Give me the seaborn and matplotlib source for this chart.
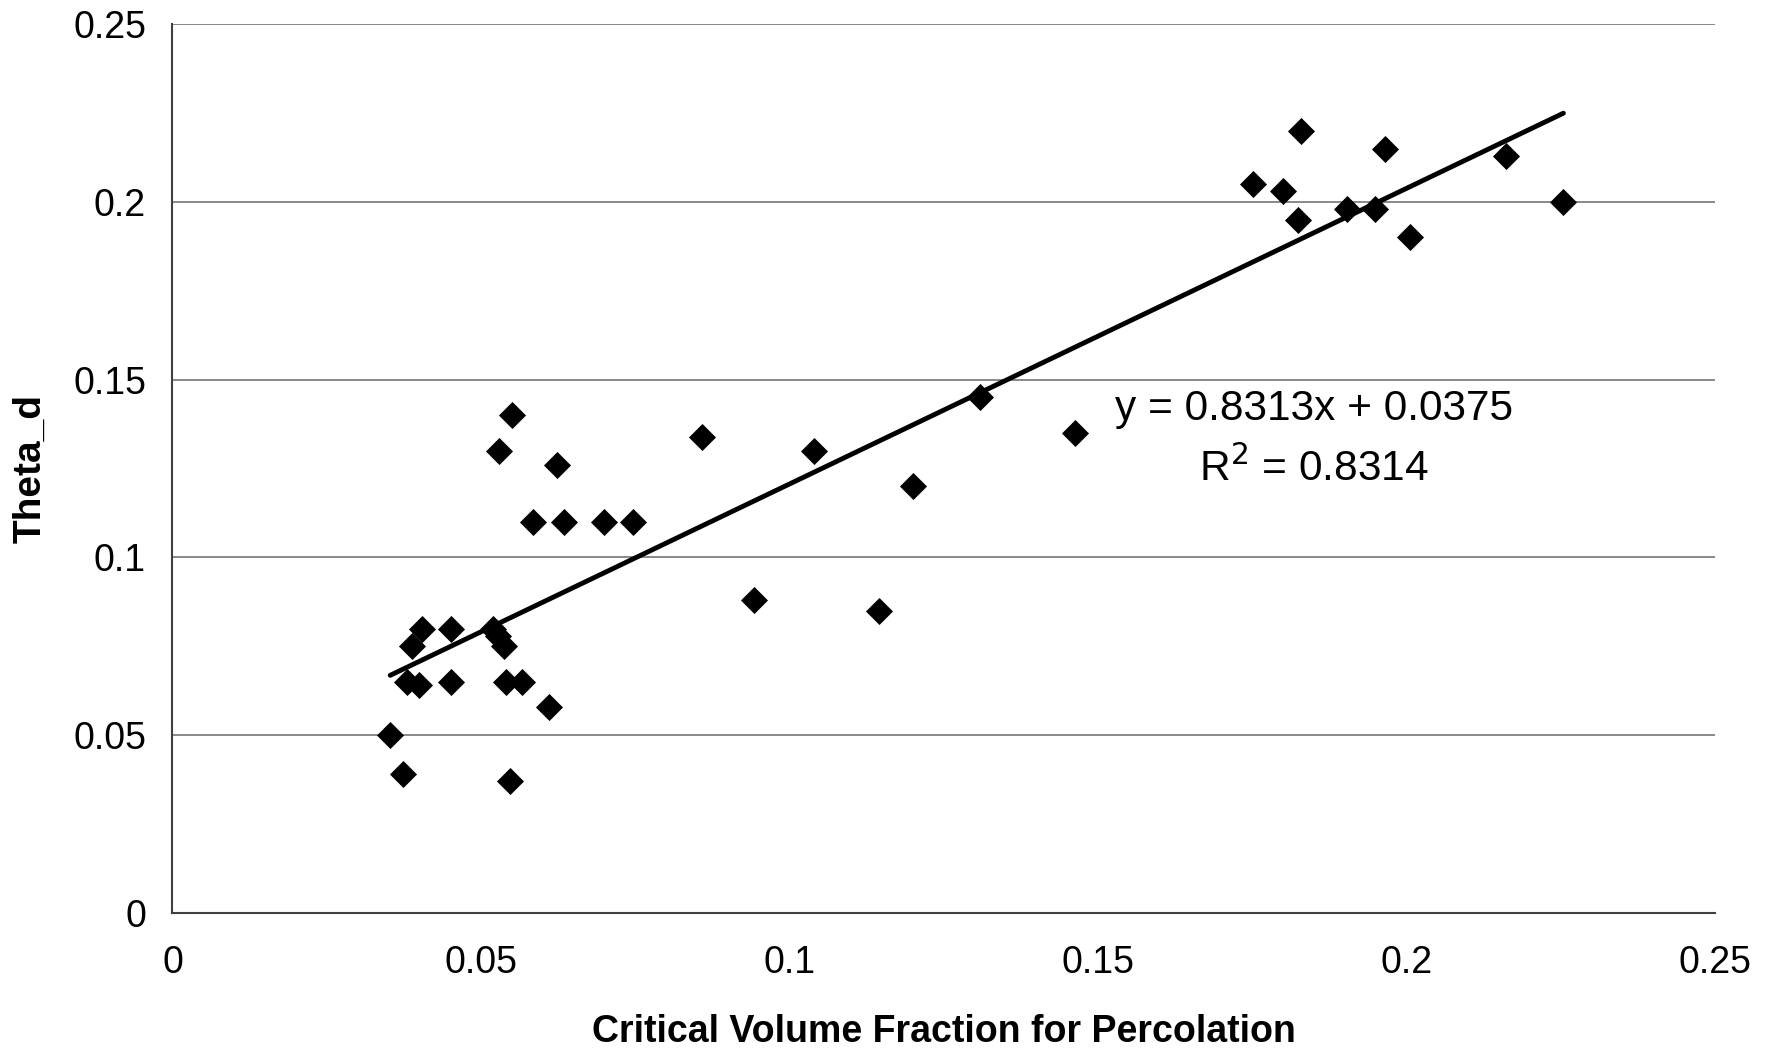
import numpy as np
import pandas as pd
import matplotlib.pyplot as plt
import seaborn as sns

# critical volume fraction (x) vs theta_d (y)
crit_vol = [0.0353, 0.0373, 0.0380, 0.0388, 0.0399, 0.0405, 0.0451, 0.0452,
            0.0520, 0.0527, 0.0537, 0.0540, 0.0547, 0.0529, 0.0550, 0.0567,
            0.0585, 0.0611, 0.0623, 0.0634, 0.0699, 0.0746, 0.0858, 0.0943,
            0.1040, 0.1145, 0.1200, 0.1309, 0.1463, 0.1752, 0.1800, 0.1824,
            0.1829, 0.1904, 0.1949, 0.1965, 0.2007, 0.2162, 0.2255]
theta_d = [0.050, 0.039, 0.065, 0.075, 0.064, 0.080, 0.065, 0.080,
           0.080, 0.078, 0.075, 0.065, 0.037, 0.130, 0.140, 0.065,
           0.110, 0.058, 0.126, 0.110, 0.110, 0.110, 0.134, 0.088,
           0.130, 0.085, 0.120, 0.145, 0.135, 0.205, 0.203, 0.195,
           0.220, 0.198, 0.198, 0.215, 0.190, 0.213, 0.200]

# trendline from the printed equation
slope = 0.8313
intercept = 0.0375
r2 = 0.8314

df = pd.DataFrame({'x': crit_vol, 'y': theta_d})
xs = np.array([min(crit_vol), max(crit_vol)])
fit = pd.DataFrame({'x': xs, 'y': slope * xs + intercept})

sns.set_style("white")
plt.rcParams['font.family'] = ['Liberation Sans', 'DejaVu Sans']
plt.rcParams['text.color'] = 'black'
plt.rcParams['axes.labelcolor'] = 'black'
plt.rcParams['xtick.color'] = 'black'
plt.rcParams['ytick.color'] = 'black'

fig = plt.figure(figsize=(17.78, 10.5), dpi=100)
ax = fig.add_axes([0.097, 0.1305, 0.8673, 0.8465])

for v in [0.05, 0.1, 0.15, 0.2, 0.25]:
    ax.axhline(v, color='#808080', lw=1.3, zorder=0)

sns.scatterplot(x='x', y='y', data=df, marker='D', s=190, color='black',
                linewidth=0, ax=ax, zorder=3)
sns.lineplot(x='x', y='y', data=fit, color='black', lw=3.5, ax=ax, zorder=4)

ax.set_xlim(0, 0.25)
ax.set_ylim(0, 0.25)
ticks = [0, 0.05, 0.1, 0.15, 0.2, 0.25]
tick_labels = ['0', '0.05', '0.1', '0.15', '0.2', '0.25']
ax.set_xticks(ticks)
ax.set_xticklabels(tick_labels)
ax.set_yticks(ticks)
ax.set_yticklabels(tick_labels)
ax.tick_params(axis='both', labelsize=27, length=9, width=1.3,
               color='#606060', labelcolor='black', direction='out', pad=10)
ax.tick_params(axis='x', pad=14)

for side in ['top', 'right']:
    ax.spines[side].set_visible(False)
for side in ['left', 'bottom']:
    ax.spines[side].set_color('#404040')
    ax.spines[side].set_linewidth(1.5)

ax.set_xlabel('Critical Volume Fraction for Percolation', fontsize=27,
              fontweight='bold', labelpad=24)
ax.set_ylabel('Theta_d', fontsize=28, fontweight='bold', labelpad=18)

ax.text(0.1851, 0.1417, 'y = %.4fx + %.4f' % (slope, intercept),
        fontsize=30.5, ha='center', va='center')
ax.text(0.1851, 0.1249, 'R$^2$ = %.4f' % r2, fontsize=30.5,
        ha='center', va='center')

fig.savefig('out.png', dpi=100)
